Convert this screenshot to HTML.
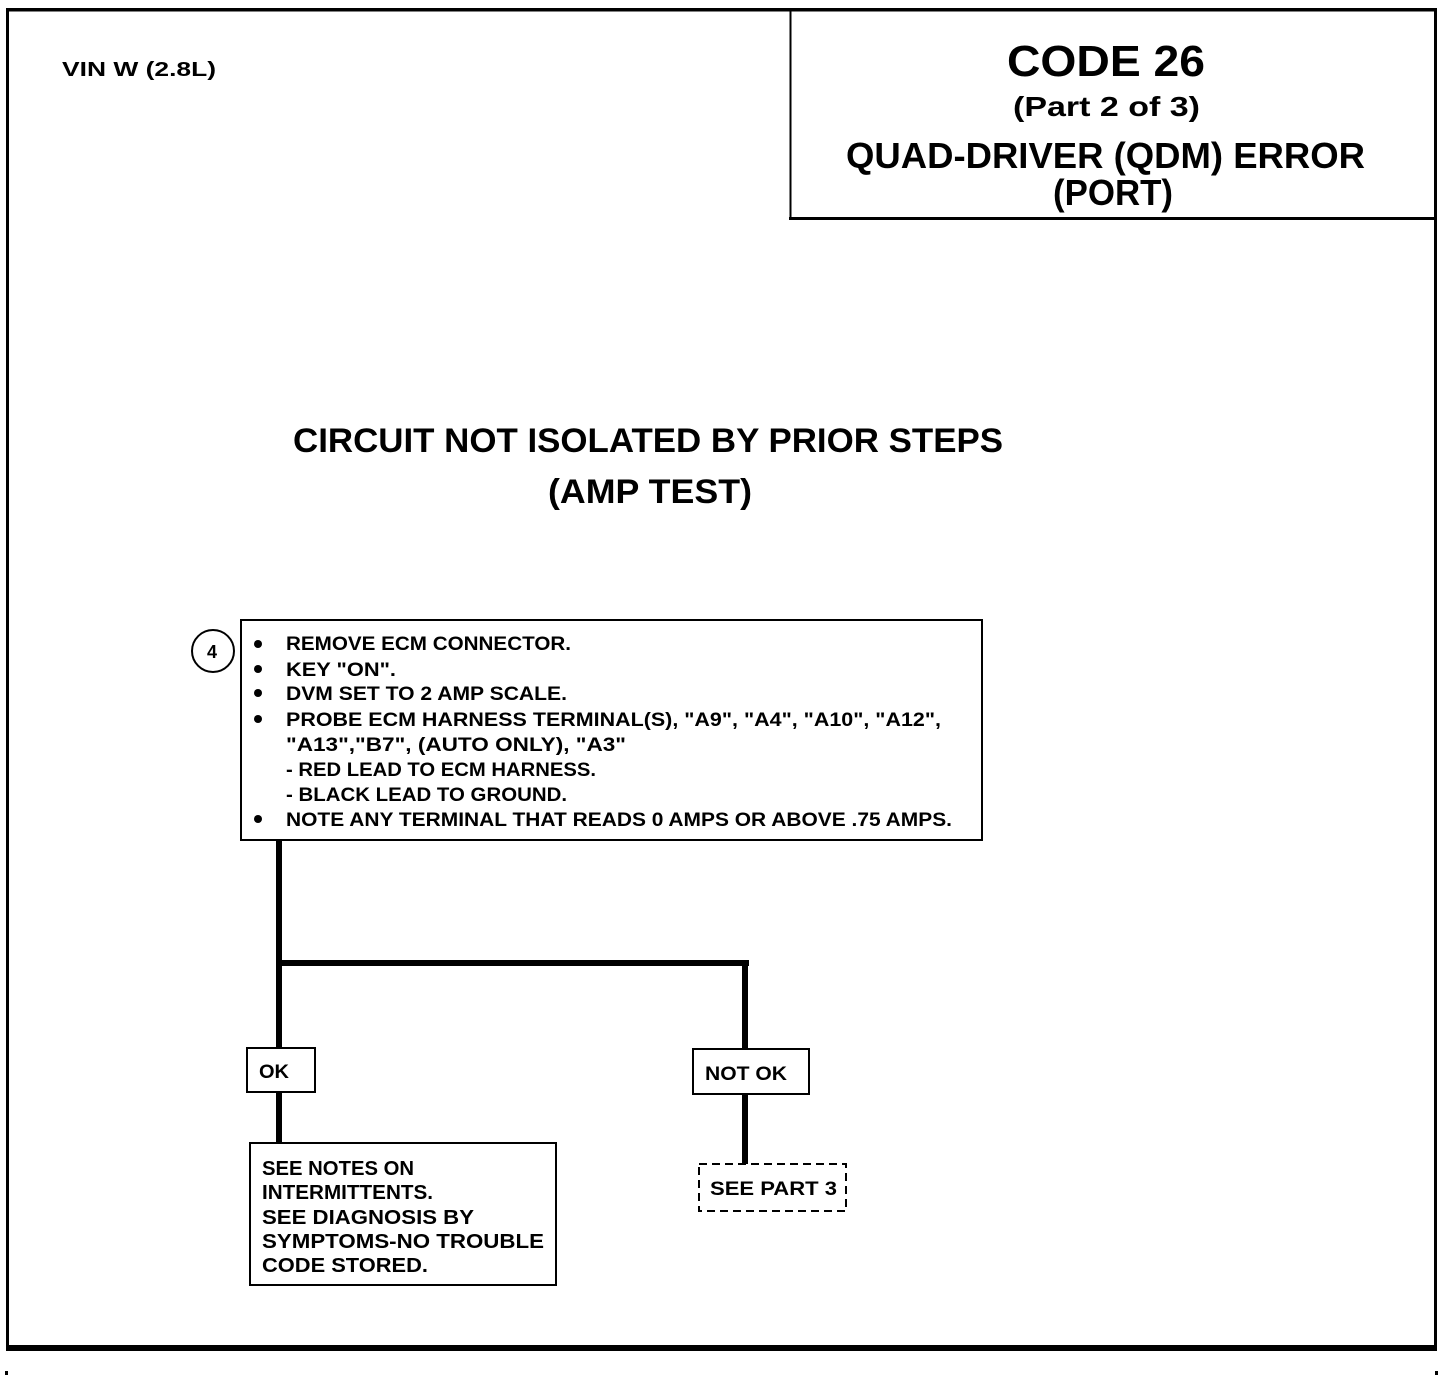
<!DOCTYPE html>
<html><head><meta charset="utf-8"><style>
html,body{margin:0;padding:0;background:#fff}
svg{display:block}
text{font-family:"Liberation Sans",sans-serif;font-weight:bold;fill:#000}
</style></head><body>
<svg width="1456" height="1382" viewBox="0 0 1456 1382" xmlns="http://www.w3.org/2000/svg">
<!-- outer frame -->
<rect x="7.5" y="10" width="1428" height="1339" fill="none" stroke="#000" stroke-width="3"/>
<rect x="6" y="8" width="1431" height="3" fill="#000"/>
<rect x="6" y="1345" width="1431" height="6" fill="#000"/>
<rect x="5" y="1371" width="3" height="4" fill="#000"/>
<rect x="1435" y="1371" width="3" height="4" fill="#000"/>
<!-- title box -->
<line x1="790.5" y1="10" x2="790.5" y2="220" stroke="#000" stroke-width="2"/>
<line x1="789" y1="218.5" x2="1436" y2="218.5" stroke="#000" stroke-width="3"/>
<text x="62" y="76" font-size="20" textLength="154" lengthAdjust="spacingAndGlyphs">VIN W (2.8L)</text>
<text x="1007" y="76" font-size="44" textLength="198" lengthAdjust="spacingAndGlyphs">CODE 26</text>
<text x="1013" y="116" font-size="28" textLength="187" lengthAdjust="spacingAndGlyphs">(Part 2 of 3)</text>
<text x="846" y="168" font-size="36" textLength="519" lengthAdjust="spacingAndGlyphs">QUAD-DRIVER (QDM) ERROR</text>
<text x="1053" y="205" font-size="36" textLength="120" lengthAdjust="spacingAndGlyphs">(PORT)</text>
<!-- heading -->
<text x="293" y="452" font-size="34" textLength="710" lengthAdjust="spacingAndGlyphs">CIRCUIT NOT ISOLATED BY PRIOR STEPS</text>
<text x="548" y="503" font-size="34" textLength="204" lengthAdjust="spacingAndGlyphs">(AMP TEST)</text>
<!-- step box -->
<circle cx="213" cy="651" r="21" fill="none" stroke="#000" stroke-width="2"/>
<text x="207" y="658" font-size="18">4</text>
<rect x="241" y="620" width="741" height="220" fill="none" stroke="#000" stroke-width="2"/>
<g>
<circle cx="258" cy="644" r="4"/><circle cx="258" cy="669" r="4"/><circle cx="258" cy="693" r="4"/><circle cx="258" cy="719" r="4"/><circle cx="258" cy="819" r="4"/>
</g>
<g font-size="19">
<text x="286" y="650" textLength="285" lengthAdjust="spacingAndGlyphs">REMOVE ECM CONNECTOR.</text>
<text x="286" y="676" textLength="110" lengthAdjust="spacingAndGlyphs">KEY "ON".</text>
<text x="286" y="700" textLength="281" lengthAdjust="spacingAndGlyphs">DVM SET TO 2  AMP SCALE.</text>
<text x="286" y="726" textLength="655" lengthAdjust="spacingAndGlyphs">PROBE ECM HARNESS TERMINAL(S), "A9", "A4", "A10", "A12",</text>
<text x="286" y="751" textLength="340" lengthAdjust="spacingAndGlyphs">"A13","B7", (AUTO ONLY), "A3"</text>
<text x="286" y="776" textLength="310" lengthAdjust="spacingAndGlyphs">- RED LEAD TO ECM HARNESS.</text>
<text x="286" y="801" textLength="281" lengthAdjust="spacingAndGlyphs">- BLACK LEAD TO GROUND.</text>
<text x="286" y="826" textLength="666" lengthAdjust="spacingAndGlyphs">NOTE ANY TERMINAL THAT READS 0 AMPS OR ABOVE .75 AMPS.</text>
</g>
<!-- connectors -->
<rect x="276" y="840" width="6" height="304" fill="#000"/>
<rect x="276" y="960" width="473" height="6" fill="#000"/>
<rect x="742" y="960" width="6" height="204" fill="#000"/>
<!-- OK -->
<rect x="247" y="1048" width="68" height="44" fill="#fff" stroke="#000" stroke-width="2"/>
<text x="259" y="1078" font-size="19" textLength="30" lengthAdjust="spacingAndGlyphs">OK</text>
<!-- NOT OK -->
<rect x="693" y="1049" width="116" height="45" fill="#fff" stroke="#000" stroke-width="2"/>
<text x="705" y="1080" font-size="19" textLength="82" lengthAdjust="spacingAndGlyphs">NOT OK</text>
<!-- SEE PART 3 -->
<rect x="699" y="1164" width="147" height="47" fill="#fff" stroke="#000" stroke-width="2" stroke-dasharray="8,5"/>
<text x="710" y="1195" font-size="19" textLength="127" lengthAdjust="spacingAndGlyphs">SEE PART 3</text>
<!-- notes box -->
<rect x="250" y="1143" width="306" height="142" fill="#fff" stroke="#000" stroke-width="2"/>
<g font-size="20">
<text x="262" y="1175" textLength="152" lengthAdjust="spacingAndGlyphs">SEE NOTES ON</text>
<text x="262" y="1199" textLength="171" lengthAdjust="spacingAndGlyphs">INTERMITTENTS.</text>
<text x="262" y="1224" textLength="212" lengthAdjust="spacingAndGlyphs">SEE DIAGNOSIS BY</text>
<text x="262" y="1248" textLength="282" lengthAdjust="spacingAndGlyphs">SYMPTOMS-NO TROUBLE</text>
<text x="262" y="1272" textLength="166" lengthAdjust="spacingAndGlyphs">CODE STORED.</text>
</g>
</svg>
</body></html>
